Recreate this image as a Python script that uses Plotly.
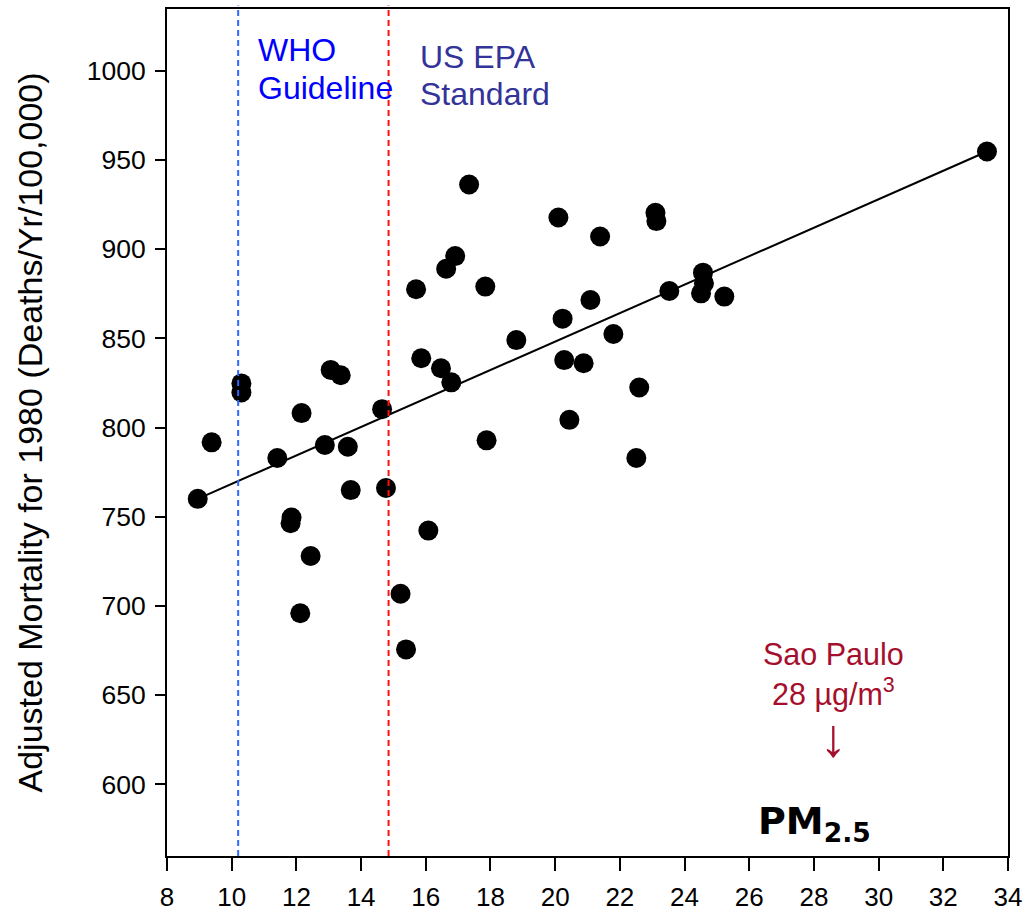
import plotly.graph_objects as go

# PM2.5 concentration (ug/m3) per city
pm25 = [8.95, 9.38, 10.30, 10.30, 11.41, 11.85, 11.82, 12.12, 12.16, 12.44,
        12.88, 13.06, 13.37, 13.59, 13.68, 14.65, 14.77, 15.22, 15.39, 15.70,
        15.86, 16.08, 16.47, 16.63, 16.79, 16.91, 17.34, 17.84, 17.88, 18.80,
        20.10, 20.23, 20.28, 20.44, 20.88, 21.09, 21.39, 21.80, 22.51, 22.60,
        23.10, 23.13, 23.53, 24.51, 24.57, 24.60, 25.23, 33.35]
# Adjusted mortality for 1980 (deaths / yr / 100,000)
mortality = [760.0, 791.7, 824.7, 819.6, 782.9, 749.5, 746.3, 695.9, 808.1, 728.0,
             790.2, 832.3, 829.3, 789.2, 764.9, 810.3, 766.1, 706.8, 675.6, 877.5,
             838.8, 742.2, 833.2, 889.0, 825.3, 896.1, 936.2, 879.0, 792.8, 849.0,
             917.7, 861.0, 837.8, 804.3, 836.0, 871.5, 907.1, 852.4, 782.9, 822.4,
             920.4, 915.7, 876.5, 875.2, 886.8, 880.8, 873.4, 954.7]

# regression line end points
fit_x = [8.95, 33.35]
fit_y = [760.0, 954.7]

# reference levels
who_guideline = 10.2
epa_standard = 14.85

x_ticks = list(range(8, 35, 2))
y_ticks = list(range(600, 1001, 50))

FONT = "Liberation Sans, Arial, sans-serif"

fig = go.Figure()
fig.add_trace(go.Scatter(x=fit_x, y=fit_y, mode="lines",
                         line=dict(color="black", width=2), showlegend=False,
                         hoverinfo="skip"))
fig.add_trace(go.Scatter(x=pm25, y=mortality, mode="markers",
                         marker=dict(color="black", size=20, line=dict(width=0)),
                         showlegend=False))

fig.add_shape(type="line", xref="x", yref="paper", x0=who_guideline, x1=who_guideline,
              y0=0, y1=1.004, line=dict(color="#3366ff", width=2, dash="6px,4px"))
fig.add_shape(type="line", xref="x", yref="paper", x0=epa_standard, x1=epa_standard,
              y0=0, y1=1.004, line=dict(color="#ff1010", width=2, dash="6px,4px"))

def txt(text, x, y, size, color, xanchor="left", bold=False, family=FONT):
    fig.add_annotation(text=("<b>%s</b>" % text) if bold else text, x=x, y=y,
                       xref="x", yref="y", xanchor=xanchor, yanchor="middle",
                       showarrow=False, align="center",
                       font=dict(family=family, size=size, color=color))

txt("WHO", 10.74, 1011.4, 32, "#0000ff")
txt("Guideline", 10.74, 990.5, 32, "#0000ff")
txt("US EPA", 15.77, 1007.9, 32, "#333399")
txt("Standard", 15.77, 987.1, 32, "#333399")
txt("Sao Paulo<br>28 µg/m<sup>3</sup>", 28.59, 661.8, 30.5, "#a50f2d", xanchor="center")
txt("↓", 28.59, 626.5, 54, "#a50f2d", xanchor="center")
txt("PM<sub>2.5</sub>", 26.22, 578.0, 38, "black", bold=True, family="DejaVu Sans")

fig.add_annotation(text="Adjusted Mortality for 1980 (Deaths/Yr/100,000)",
                   x=(29 - 167) / 841, y=0.5, xref="paper", yref="paper",
                   textangle=-90, xanchor="center", yanchor="middle", showarrow=False,
                   font=dict(family=FONT, size=34, color="black"))

axis_common = dict(showline=True, linecolor="black", linewidth=2, mirror=True,
                   showgrid=False, zeroline=False, ticks="outside",
                   tickcolor="black", tickwidth=2, automargin=False)

fig.update_xaxes(range=[8, 34], tickvals=x_ticks, ticklen=13, ticklabelstandoff=4,
                 tickfont=dict(family=FONT, size=26, color="black"), **axis_common)
fig.update_yaxes(range=[559.8, 1034.6], tickvals=y_ticks, ticklen=10, ticklabelstandoff=4,
                 tickfont=dict(family=FONT, size=26.5, color="black"), **axis_common)

fig.update_layout(width=1026, height=912, plot_bgcolor="white", paper_bgcolor="white",
                  margin=dict(l=167, r=18, t=9, b=56),
                  font=dict(family=FONT))

fig.write_html("out.html")
